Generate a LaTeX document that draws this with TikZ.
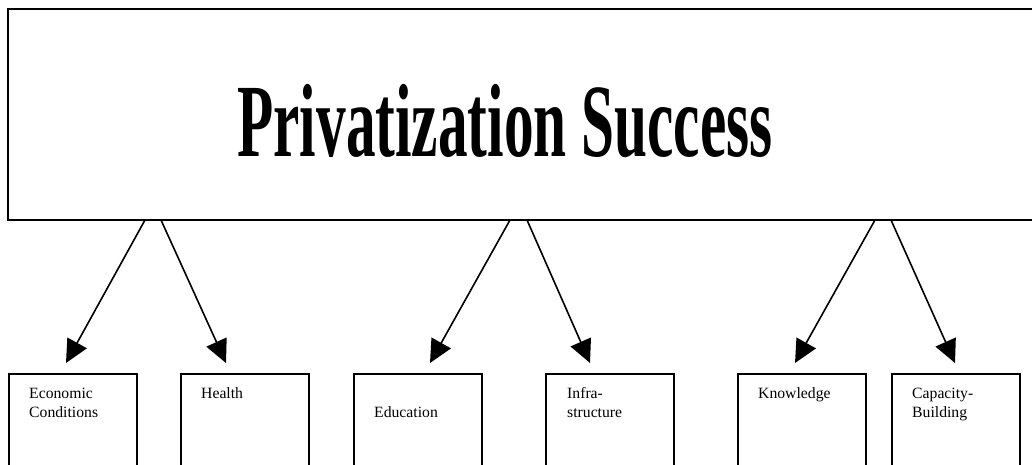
\documentclass[tikz,border=0pt]{standalone}
\usepackage{fontspec}
\setmainfont{Liberation Serif}
\usetikzlibrary{arrows.meta}
\begin{document}
\begin{tikzpicture}[x=1pt,y=-1pt,
  mainbox/.style={draw, line width=2pt, minimum width=1040pt, minimum height=211pt, inner sep=0pt},
  subbox/.style={draw, line width=1.5pt, minimum width=128pt, minimum height=130pt, inner sep=0pt, anchor=north west},
  boxtext/.style={anchor=base west, inner sep=0pt, align=left, font=\fontsize{15.7}{19}\selectfont},
  arr/.style={line width=1.6pt, -{Triangle[length=23pt,width=22pt]}}]
\useasboundingbox (0,0) rectangle (1032,465);
\clip (0,0) rectangle (1032,465);
\node[mainbox] (main) at (528,114.5) {};
\node[anchor=base, inner sep=0pt] (title) at (505,157)
  {\scalebox{0.57}[1]{\fontsize{104}{110}\selectfont\bfseries Privatization Success}};
% sub boxes
\node[subbox] (b1) at (8,373) {};
\node[subbox] (b2) at (180,373) {};
\node[subbox] (b3) at (353,373) {};
\node[subbox] (b4) at (545,373) {};
\node[subbox] (b5) at (737,373) {};
\node[subbox] (b6) at (891,373) {};
% texts (base = last line)
\node[boxtext] (l1) at (29,417) {Economic\\Conditions};
\node[boxtext] (l2) at (201,398) {Health};
\node[boxtext] (l3) at (374,417) {Education};
\node[boxtext] (l4) at (567,417) {Infra-\\structure};
\node[boxtext] (l5) at (758,398) {Knowledge};
\node[boxtext] (l6) at (912,417) {Capacity-\\Building};
% arrow start and end points
\coordinate (s1) at (145,220); \coordinate (t1) at (66,363);
\coordinate (s2) at (161,220); \coordinate (t2) at (226,363);
\coordinate (s3) at (510,220); \coordinate (t3) at (430,363);
\coordinate (s4) at (527,220); \coordinate (t4) at (590,363);
\coordinate (s5) at (875,220); \coordinate (t5) at (795,363);
\coordinate (s6) at (891,220); \coordinate (t6) at (955,363);
\foreach \i in {1,...,6} { \draw[arr] (s\i) -- (t\i); }
\end{tikzpicture}
\end{document}
